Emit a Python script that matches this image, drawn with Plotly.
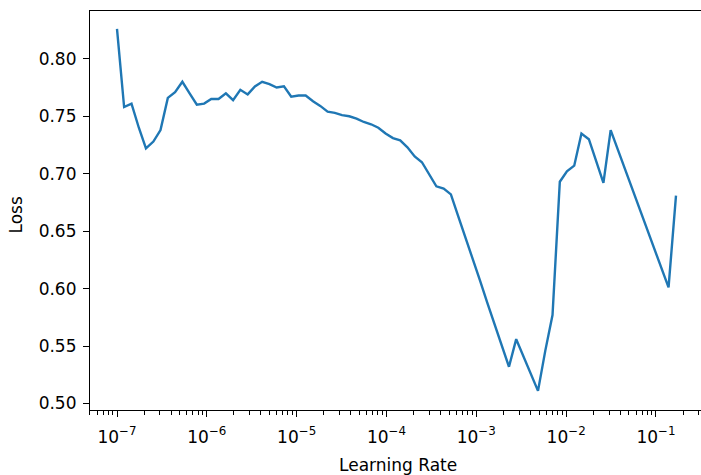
import plotly.graph_objects as go

# Learning-rate finder sweep: learning rate (log scale) vs. smoothed loss
learning_rates = [
    1.00e-7, 1.20e-7, 1.45e-7, 1.75e-7, 2.10e-7, 2.54e-7, 3.05e-7, 3.68e-7,
    4.43e-7, 5.34e-7, 6.43e-7, 7.74e-7, 9.33e-7, 1.12e-6, 1.35e-6, 1.63e-6,
    1.96e-6, 2.36e-6, 2.85e-6, 3.43e-6, 4.13e-6, 4.98e-6, 5.99e-6, 7.22e-6,
    8.70e-6, 1.05e-5, 1.26e-5, 1.52e-5, 1.83e-5, 2.21e-5, 2.66e-5, 3.20e-5,
    3.85e-5, 4.64e-5, 5.59e-5, 6.73e-5, 8.11e-5, 9.77e-5, 1.18e-4, 1.42e-4,
    1.71e-4, 2.06e-4, 2.48e-4, 2.98e-4, 3.59e-4, 4.33e-4, 5.21e-4, 6.28e-4,
    7.56e-4, 9.11e-4, 1.10e-3, 1.32e-3, 1.59e-3, 1.92e-3, 2.31e-3, 2.78e-3,
    3.35e-3, 4.04e-3, 4.86e-3, 5.86e-3, 7.05e-3, 8.50e-3, 1.02e-2, 1.23e-2,
    1.48e-2, 1.79e-2, 2.15e-2, 2.60e-2, 3.13e-2, 3.76e-2, 4.53e-2, 5.46e-2,
    6.58e-2, 7.92e-2, 9.55e-2, 1.15e-1, 1.38e-1, 1.67e-1,
]

losses = [
    0.826, 0.758, 0.761, 0.740, 0.722, 0.728, 0.738, 0.766,
    0.771, 0.780, 0.770, 0.760, 0.761, 0.765, 0.765, 0.770,
    0.764, 0.773, 0.769, 0.776, 0.780, 0.778, 0.775, 0.776,
    0.767, 0.768, 0.768, 0.763, 0.759, 0.754, 0.753, 0.751,
    0.750, 0.748, 0.745, 0.743, 0.740, 0.735, 0.731, 0.729,
    0.723, 0.715, 0.710, 0.700, 0.689, 0.687, 0.682, 0.663,
    0.645, 0.626, 0.607, 0.588, 0.569, 0.551, 0.532, 0.556,
    0.541, 0.526, 0.511, 0.546, 0.577, 0.693, 0.702, 0.707,
    0.735, 0.730, 0.711, 0.692, 0.738, 0.721, 0.704, 0.687,
    0.670, 0.653, 0.636, 0.619, 0.601, 0.681,
]

x_major = [1e-7, 1e-6, 1e-5, 1e-4, 1e-3, 1e-2, 1e-1]
x_major_text = ["10<sup>\u22127</sup>", "10<sup>\u22126</sup>", "10<sup>\u22125</sup>",
                "10<sup>\u22124</sup>", "10<sup>\u22123</sup>", "10<sup>\u22122</sup>",
                "10<sup>\u22121</sup>"]
x_minor = [m * d for d in [1e-8, 1e-7, 1e-6, 1e-5, 1e-4, 1e-3, 1e-2, 1e-1]
           for m in range(2, 10)]

y_ticks = [0.50, 0.55, 0.60, 0.65, 0.70, 0.75, 0.80]
y_tick_text = ["0.50", "0.55", "0.60", "0.65", "0.70", "0.75", "0.80"]

FONT = "DejaVu Sans"
INK = "#000000"
BLUE = "#1f77b4"

fig = go.Figure(
    go.Scatter(
        x=learning_rates,
        y=losses,
        mode="lines",
        line=dict(color=BLUE, width=2.4),
        hoverinfo="x+y",
    )
)

axis_common = dict(
    showgrid=False,
    zeroline=False,
    showline=True,
    linecolor=INK,
    linewidth=1.2,
    ticks="outside",
    ticklen=6,
    tickwidth=1.2,
    tickcolor=INK,
    tickfont=dict(family=FONT, size=17, color=INK),
)

fig.update_layout(
    width=701,
    height=475,
    margin=dict(l=90, r=0, t=11, b=65),
    paper_bgcolor="white",
    plot_bgcolor="white",
    showlegend=False,
    xaxis=dict(
        type="log",
        range=[-7.3006, -0.4989],
        tickmode="array",
        tickvals=x_major,
        ticktext=x_major_text,
        ticklabelstandoff=5,
        mirror=True,
        minor=dict(
            tickmode="array",
            tickvals=x_minor,
            ticks="outside",
            ticklen=3.5,
            tickwidth=1,
            tickcolor=INK,
            showgrid=False,
        ),
        **axis_common,
    ),
    yaxis=dict(
        range=[0.49435, 0.8416],
        tickmode="array",
        tickvals=y_ticks,
        ticktext=y_tick_text,
        ticklabelstandoff=3,
        mirror=False,
        **axis_common,
    ),
    annotations=[
        dict(
            text="Learning Rate",
            xref="paper", yref="paper",
            x=0.5033, y=-0.1378,
            xanchor="center", yanchor="middle",
            showarrow=False,
            font=dict(family=FONT, size=17, color=INK),
        ),
        dict(
            text="Loss",
            xref="paper", yref="paper",
            x=-0.1195, y=0.49,
            xanchor="center", yanchor="middle",
            textangle=-90,
            showarrow=False,
            font=dict(family=FONT, size=17, color=INK),
        ),
    ],
)

fig.write_html("out.html")
